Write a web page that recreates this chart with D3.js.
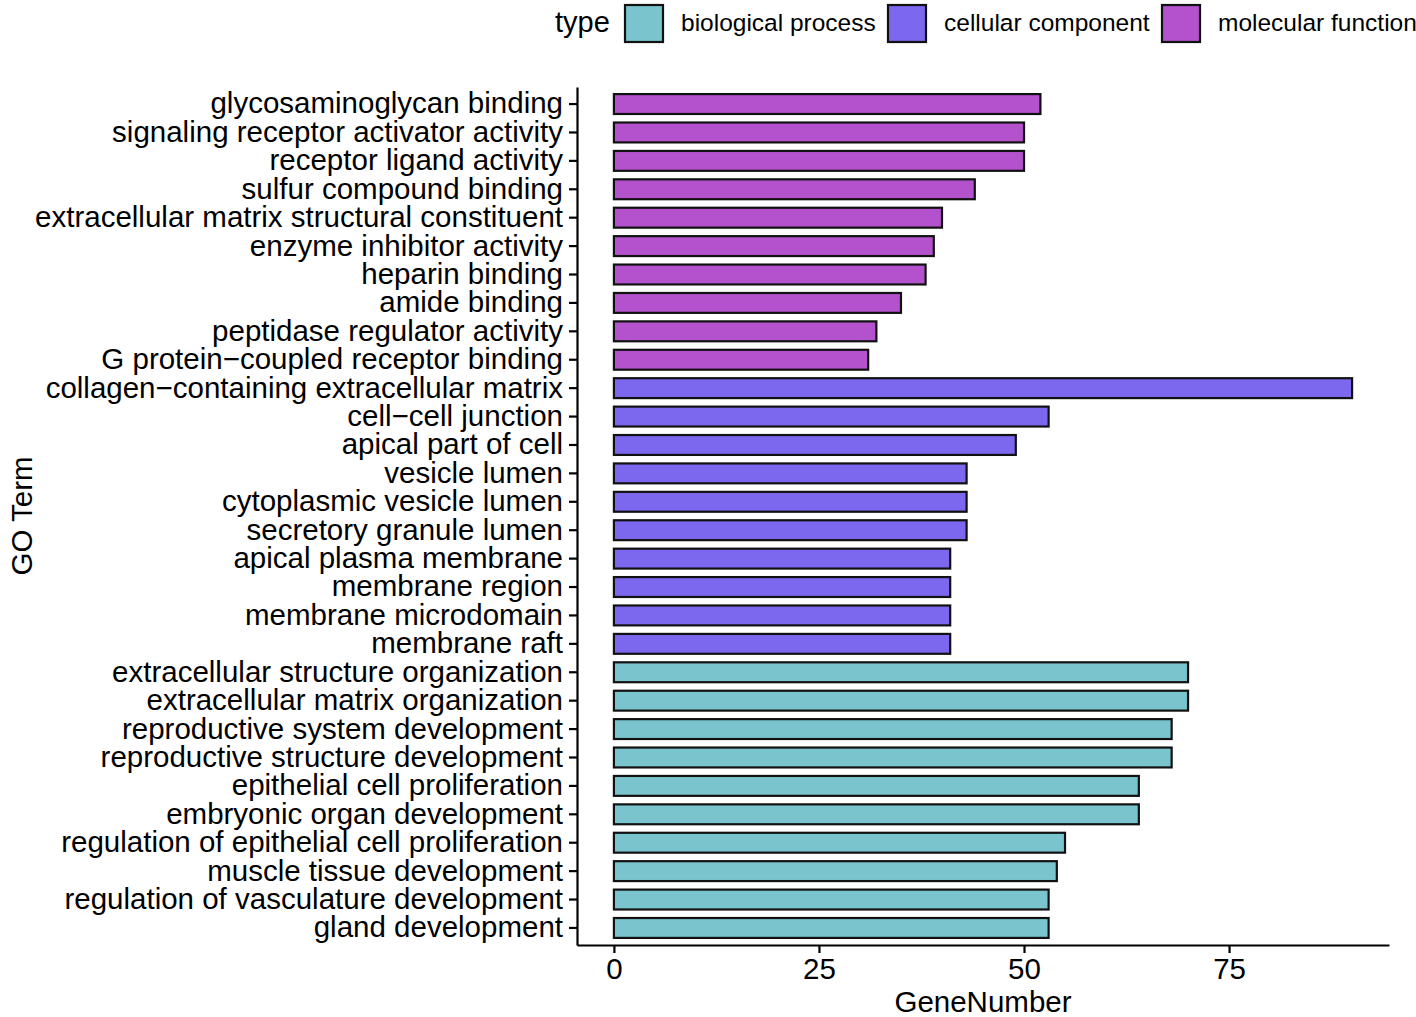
<!DOCTYPE html>
<html>
<head>
<meta charset="utf-8">
<title>GO terms</title>
<script src="https://d3js.org/d3.v7.min.js"></script>
<style>
  body { margin: 0; background: #fff; }
  svg { display: block; font-family: "Liberation Sans", Arial, sans-serif; }
</style>
</head>
<body>
<svg id="chart" width="1416" height="1017"></svg>
<script>
// terms top to bottom
var terms = [
  "glycosaminoglycan binding", "signaling receptor activator activity", "receptor ligand activity",
  "sulfur compound binding", "extracellular matrix structural constituent", "enzyme inhibitor activity",
  "heparin binding", "amide binding", "peptidase regulator activity", "G protein\u2212coupled receptor binding",
  "collagen\u2212containing extracellular matrix", "cell\u2212cell junction", "apical part of cell",
  "vesicle lumen", "cytoplasmic vesicle lumen", "secretory granule lumen", "apical plasma membrane",
  "membrane region", "membrane microdomain", "membrane raft",
  "extracellular structure organization", "extracellular matrix organization",
  "reproductive system development", "reproductive structure development",
  "epithelial cell proliferation", "embryonic organ development",
  "regulation of epithelial cell proliferation", "muscle tissue development",
  "regulation of vasculature development", "gland development"
];
var geneNumber = [52, 50, 50, 44, 40, 39, 38, 35, 32, 31,
                  90, 53, 49, 43, 43, 43, 41, 41, 41, 41,
                  70, 70, 68, 68, 64, 64, 55, 54, 53, 53];
var termType = [].concat(
  d3.range(10).map(function(){ return "molecular function"; }),
  d3.range(10).map(function(){ return "cellular component"; }),
  d3.range(10).map(function(){ return "biological process"; })
);
var types = ["biological process", "cellular component", "molecular function"];
var typeColors = ["#7AC5CD", "#7B68EE", "#B452CD"];
var xTicks = [0, 25, 50, 75];

var data = terms.map(function(t, i){ return {term: t, n: geneNumber[i], type: termType[i]}; });

var svg = d3.select("#chart");
var plotLeft = 577, plotRight = 1389, plotTop = 87, plotBottom = 945;

var x = d3.scaleLinear().domain([-4.5, 94.5]).range([plotLeft, plotRight]);
// ggplot-style: 0.6 step of space beyond first/last centre, bar width 0.7
var y = d3.scaleBand().domain(terms).range([plotTop, plotBottom]).paddingInner(0.3).paddingOuter(0.25);
var color = d3.scaleOrdinal().domain(types).range(typeColors);

// bars
svg.append("g").selectAll("rect").data(data).enter().append("rect")
  .attr("x", x(0))
  .attr("y", function(d){ return y(d.term); })
  .attr("width", function(d){ return x(d.n) - x(0); })
  .attr("height", y.bandwidth())
  .attr("fill", function(d){ return color(d.type); })
  .attr("stroke", "#111")
  .attr("stroke-width", 2.2);

// y axis
var yAxis = svg.append("g").attr("transform", "translate(" + plotLeft + ",0)")
  .call(d3.axisLeft(y).tickSize(8).tickPadding(6).tickSizeOuter(0));
yAxis.select(".domain").attr("stroke", "#000").attr("stroke-width", 2.2);
yAxis.selectAll(".tick line").attr("stroke", "#000").attr("stroke-width", 2.2);
yAxis.selectAll(".tick text").attr("fill", "#000").style("font-size", "29.5px")
  .style("font-family", "Liberation Sans, Arial, sans-serif");

// x axis
var xAxis = svg.append("g").attr("transform", "translate(0," + plotBottom + ")")
  .call(d3.axisBottom(x).tickValues(xTicks).tickSize(8).tickPadding(5).tickSizeOuter(0));
xAxis.select(".domain").attr("stroke", "#000").attr("stroke-width", 2.2);
xAxis.selectAll(".tick line").attr("stroke", "#000").attr("stroke-width", 2.2);
xAxis.selectAll(".tick text").attr("fill", "#000").style("font-size", "29.5px")
  .style("font-family", "Liberation Sans, Arial, sans-serif");

// axis titles
svg.append("text").attr("x", (plotLeft + plotRight) / 2).attr("y", 1012)
  .attr("text-anchor", "middle").style("font-size", "29.5px").text("GeneNumber");
svg.append("text").attr("transform", "translate(22," + ((plotTop + plotBottom) / 2) + ") rotate(-90)")
  .attr("text-anchor", "middle").attr("dy", "0.35em").style("font-size", "29.5px").text("GO Term");

// legend
var lg = svg.append("g");
lg.append("text").attr("x", 555).attr("y", 32).style("font-size", "29px").text("type");
var keyX = [625, 888, 1162];
types.forEach(function(t, i){
  lg.append("rect").attr("x", keyX[i]).attr("y", 5).attr("width", 38).attr("height", 37)
    .attr("fill", color(t)).attr("stroke", "#111").attr("stroke-width", 2.2);
  lg.append("text").attr("x", keyX[i] + 56).attr("y", 31).style("font-size", "24.5px").text(t);
});
</script>
</body>
</html>
